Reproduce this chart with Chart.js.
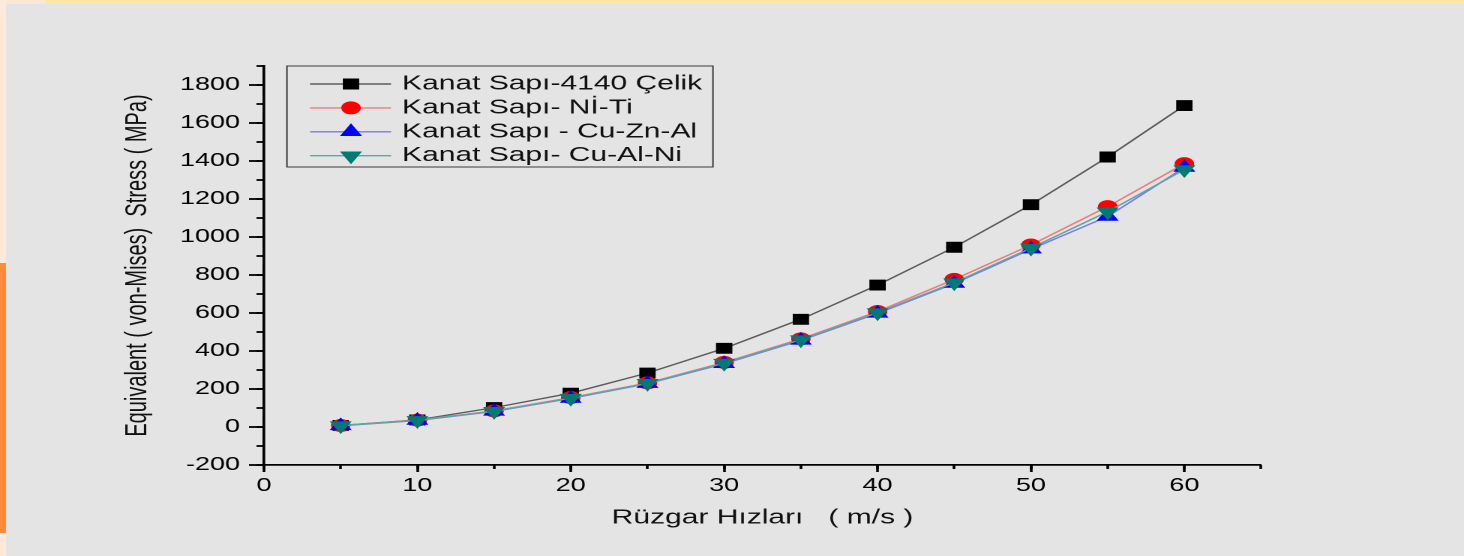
<!DOCTYPE html>
<html>
<head>
<meta charset="utf-8">
<title>Equivalent (von-Mises) Stress</title>
<script src="https://cdn.jsdelivr.net/npm/chart.js"></script>
<style>
  html, body { margin: 0; padding: 0; }
  body {
    width: 1464px; height: 556px; position: relative; overflow: hidden;
    background: #e4e4e4;
    font-family: "Liberation Sans", Arial, sans-serif;
  }
  /* page frame strips */
  .strip-top { position: absolute; left: 0; top: 0; width: 1464px; height: 4px; background: #fbe8a4; }
  .strip-top-left { position: absolute; left: 0; top: 0; width: 45px; height: 4px; background: #fde6d4; }
  .strip-left { position: absolute; left: 0; top: 0; width: 6px; height: 556px; background: #fdeadb; }
  .bar-left { position: absolute; left: 0; top: 263px; width: 6px; height: 270px; background: #ff8b3b; }
  /* the original figure is stretched horizontally, so is this one */
  #wrap {
    position: absolute; left: 0; top: 0; width: 976px; height: 556px;
    transform: scaleX(1.5); transform-origin: 0 0;
  }
</style>
</head>
<body>
<div class="strip-top"></div>
<div class="strip-top-left"></div>
<div class="strip-left"></div>
<div class="bar-left"></div>
<div id="wrap"><canvas id="stressChart"></canvas></div>

<script>
// rüzgar hızları (m/s)
const speeds = [5, 10, 15, 20, 25, 30, 35, 40, 45, 50, 55, 60];

// von-Mises gerilme (MPa)
const celik4140 = [8, 37, 102, 178, 284, 414, 567, 747, 946, 1170, 1421, 1692];
const niTi      = [8, 36, 85, 155, 232, 340, 464, 608, 777, 958, 1160, 1386];
const cuZnAl    = [6, 34, 82, 150, 228, 333, 456, 598, 755, 936, 1108, 1366];
const cuAlNi    = [7, 35, 83, 152, 230, 336, 460, 602, 760, 942, 1133, 1355];

const seriesNames = [
    'Kanat Sapı-4140 Çelik',
    'Kanat Sapı- Nİ-Ti',
    'Kanat Sapı - Cu-Zn-Al',
    'Kanat Sapı- Cu-Al-Ni'
];

// eksen aralıkları
const xMin = 0, xMax = 65, xMajor = 10, xMinor = 5;
const yMin = -200, yMax = 1900, yMajor = 200, yMinor = 100;

const fontFamily = '"Liberation Sans", Arial, sans-serif';

function toPoints(values) {
    return values.map((v, i) => ({ x: speeds[i], y: v }));
}

// legend inside the plot with a frame, line + marker like Origin
const boxLegend = {
    id: 'boxLegend',
    afterDatasetsDraw(chart) {
        const { ctx, chartArea } = chart;
        const left = chartArea.left + 15.3;
        const top = chartArea.top;
        ctx.save();
        ctx.strokeStyle = '#3a3a3a';
        ctx.lineWidth = 1;
        ctx.strokeRect(left, top, 284, 101);
        ctx.font = '20px ' + fontFamily;
        ctx.textBaseline = 'middle';
        ctx.textAlign = 'left';
        chart.data.datasets.forEach((ds, i) => {
            const y = top + 18 + i * 23.9;
            ctx.strokeStyle = ds.borderColor;
            ctx.lineWidth = ds.borderWidth;
            ctx.beginPath();
            ctx.moveTo(left + 15.4, y);
            ctx.lineTo(left + 69.4, y);
            ctx.stroke();
            ctx.fillStyle = ds.pointBackgroundColor;
            ctx.strokeStyle = ds.pointBorderColor;
            ctx.lineWidth = 1;
            Chart.helpers.drawPoint(ctx, {
                pointStyle: ds.pointStyle,
                rotation: ds.pointRotation || 0,
                radius: ds.pointRadius,
                borderWidth: 1
            }, left + 42.7, y);
            ctx.fillStyle = '#111';
            ctx.fillText(ds.label, left + 76.7, y);
        });
        ctx.restore();
    }
};

const ctx = document.getElementById('stressChart').getContext('2d');

const stressChart = new Chart(ctx, {
    type: 'line',
    data: {
        datasets: [
            {
                label: seriesNames[0],
                data: toPoints(celik4140),
                borderColor: '#5c5c5c',
                borderWidth: 1.4,
                pointStyle: 'rect',
                pointRadius: 7,
                pointBackgroundColor: '#000000',
                pointBorderColor: '#000000',
                pointBorderWidth: 1,
                order: 4
            },
            {
                label: seriesNames[1],
                data: toPoints(niTi),
                borderColor: '#f07a7a',
                borderWidth: 1.4,
                pointStyle: 'circle',
                pointRadius: 6,
                pointBackgroundColor: '#ff0000',
                pointBorderColor: '#ff0000',
                pointBorderWidth: 1,
                order: 3
            },
            {
                label: seriesNames[2],
                data: toPoints(cuZnAl),
                borderColor: '#7a7af5',
                borderWidth: 1.4,
                pointStyle: 'triangle',
                pointRadius: 7.5,
                pointBackgroundColor: '#0000ff',
                pointBorderColor: '#0000ff',
                pointBorderWidth: 1,
                order: 2
            },
            {
                label: seriesNames[3],
                data: toPoints(cuAlNi),
                borderColor: '#5aa8a2',
                borderWidth: 1.4,
                pointStyle: 'triangle',
                pointRotation: 180,
                pointRadius: 7.5,
                pointBackgroundColor: '#007a74',
                pointBorderColor: '#007a74',
                pointBorderWidth: 1,
                order: 1
            }
        ]
    },
    options: {
        responsive: true,
        maintainAspectRatio: false,
        devicePixelRatio: 2,
        animation: false,
        layout: { padding: { left: 0, top: 66, right: 135.3, bottom: 0 } },
        elements: { line: { tension: 0 } },
        plugins: {
            legend: { display: false },
            tooltip: { enabled: false }
        },
        scales: {
            x: {
                type: 'linear',
                position: 'bottom',
                min: xMin,
                max: xMax,
                border: { display: true, color: '#000', width: 1.8 },
                grid: { drawOnChartArea: false, tickLength: 7, tickWidth: 1.8, tickColor: '#000' },
                ticks: {
                    stepSize: xMajor,
                    includeBounds: false,
                    padding: 3,
                    maxRotation: 0,
                    autoSkip: false,
                    color: '#000',
                    font: { size: 18, family: fontFamily },
                    callback: v => String(v)
                },
                title: {
                    display: true,
                    text: 'Rüzgar Hızları   ( m/s )',
                    color: '#111',
                    font: { size: 20, family: fontFamily },
                    padding: { top: 0, bottom: 26 }
                },
                afterFit(scale) { scale.height = 91; }
            },
            y: {
                type: 'linear',
                position: 'left',
                min: yMin,
                max: yMax,
                border: { display: true, color: '#000', width: 1.8 },
                grid: { drawOnChartArea: false, tickLength: 10, tickWidth: 1.8, tickColor: '#000' },
                ticks: {
                    stepSize: yMajor,
                    includeBounds: false,
                    padding: 6,
                    color: '#000',
                    font: { size: 18, family: fontFamily },
                    callback: v => String(v)
                },
                title: {
                    display: true,
                    text: 'Equivalent ( von-Mises)  Stress ( MPa)',
                    color: '#111',
                    font: { size: 20, family: fontFamily },
                    padding: { top: 80, bottom: 0 }
                },
                afterFit(scale) { scale.width = 176; }
            },
            // minor ticks, sitting on the main axes
            xMinorAxis: {
                type: 'linear',
                axis: 'x',
                position: { y: yMin },
                min: xMin,
                max: xMax,
                border: { display: false },
                grid: { drawOnChartArea: false, tickLength: 4, tickWidth: 1.8, tickColor: '#000' },
                ticks: { stepSize: xMinor, display: false, autoSkip: false }
            },
            yMinorAxis: {
                type: 'linear',
                axis: 'y',
                position: { x: xMin },
                min: yMin,
                max: yMax,
                border: { display: false },
                grid: { drawOnChartArea: false, tickLength: 5, tickWidth: 1.8, tickColor: '#000' },
                ticks: { stepSize: yMinor, display: false, autoSkip: false }
            }
        }
    },
    plugins: [boxLegend]
});
</script>
</body>
</html>
